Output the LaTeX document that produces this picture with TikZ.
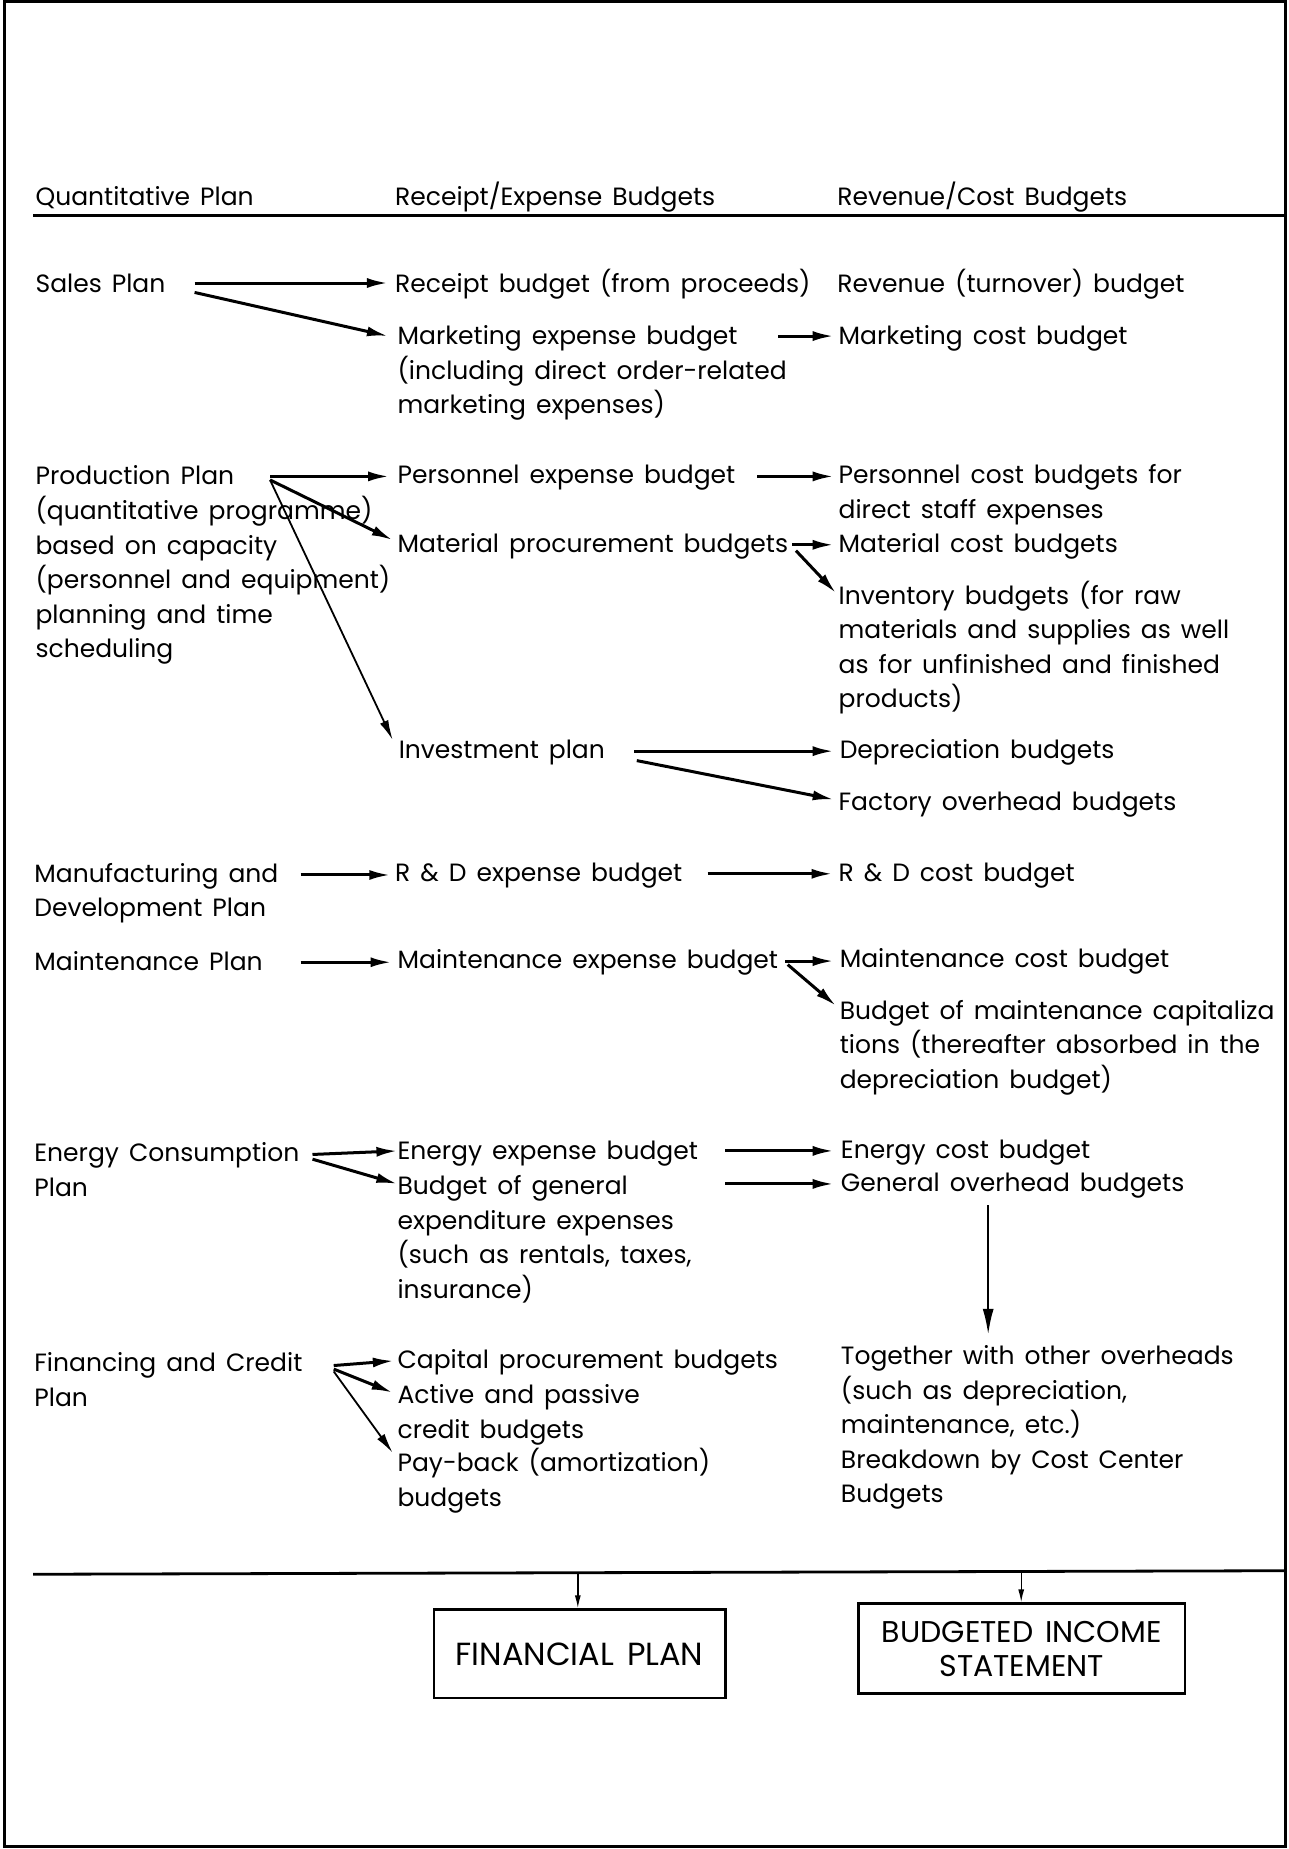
\documentclass[tikz,border=0pt]{standalone}
\usepackage{fontspec}
\setmainfont{Poppins}[WordSpace=1.5]
\usetikzlibrary{arrows.meta}

\begin{document}
\begin{tikzpicture}[x=1.1793pt,y=-1.1793pt,
  txt/.style={anchor=north west,inner sep=0pt,align=left,
    font=\fontsize{25}{34.6}\selectfont},
  arr/.style={line width=3pt,-{Latex[length=21pt,width=10pt]}},
  thinarr/.style={line width=1.8pt,-{Latex[length=20pt,width=9pt]}},
  boxarr/.style={line width=1.4pt,-{Latex[length=13pt,width=6pt]}},
  endbox/.style={draw,line width=2.6pt,inner sep=0pt,align=center,
    font=\fontsize{30}{34}\selectfont}]

\useasboundingbox (0,0) rectangle (1093,1568);

% outer frame and horizontal rules
\draw[line width=3.2pt] (4,1.5) rectangle (1090,1566);
\draw[line width=2.8pt] (28,183) -- (1090,183);
\draw[line width=2.8pt] (28,1335) -- (1090,1332);

% column headings
\node[txt] (hqp) at (30,153.5) {\strut Quantitative Plan};
\node[txt] (hre) at (335,153.5) {\strut Receipt/Expense Budgets};
\node[txt] (hrc) at (710,153.5) {\strut Revenue/Cost Budgets};

% quantitative plans
\node[txt] (sales) at (30,227.5) {\strut Sales Plan};
\node[txt] (prod) at (30,390.5) {\strut Production Plan\\(quantitative programme)\\based on capacity\\(personnel and equipment)\\planning and time\\scheduling};
\node[txt] (mfg) at (29,727.5) {\strut Manufacturing and\\Development Plan};
\node[txt] (maint) at (29,802.5) {\strut Maintenance Plan};
\node[txt] (energy) at (29,964.5) {\strut Energy Consumption\\Plan};
\node[txt] (fin) at (29,1142.5) {\strut Financing and Credit\\Plan};

% receipt / expense budgets
\node[txt] (receipt) at (335,227.5) {\strut Receipt budget (from proceeds)};
\node[txt] (mktexp) at (337,271.5) {\strut Marketing expense budget\\(including direct order-related\\marketing expenses)};
\node[txt] (persexp) at (337,389.5) {\strut Personnel expense budget};
\node[txt] (matproc) at (337,447.5) {\strut Material procurement budgets};
\node[txt] (invest) at (338,622.5) {\strut Investment plan};
\node[txt] (rdexp) at (335,726.5) {\strut R \& D expense budget};
\node[txt] (mntexp) at (337,800.5) {\strut Maintenance expense budget};
\node[txt] (enexp) at (337,962.5) {\strut Energy expense budget};
\node[txt] (genexp) at (337,992.5) {\strut Budget of general\\expenditure expenses\\(such as rentals, taxes,\\insurance)};
\node[txt] (capproc) at (337,1139.5) {\strut Capital procurement budgets};
\node[txt] (credit) at (337,1169.5) {\strut Active and passive\\credit budgets};
\node[txt] (payback) at (337,1227.5) {\strut Pay-back (amortization)\\budgets};

% revenue / cost budgets
\node[txt] (revenue) at (710,227.5) {\strut Revenue (turnover) budget};
\node[txt] (mktcost) at (711,271.5) {\strut Marketing cost budget};
\node[txt] (perscost) at (711,389.5) {\strut Personnel cost budgets for\\direct staff expenses};
\node[txt] (matcost) at (711,447.5) {\strut Material cost budgets};
\node[txt] (inventory) at (711,491.5) {\strut Inventory budgets (for raw\\materials and supplies as well\\as for unfinished and finished\\products)};
\node[txt] (deprec) at (712,622.5) {\strut Depreciation budgets};
\node[txt] (factory) at (711,666.5) {\strut Factory overhead budgets};
\node[txt] (rdcost) at (711,726.5) {\strut R \& D cost budget};
\node[txt] (mntcost) at (712,799.5) {\strut Maintenance cost budget};
\node[txt] (mntcap) at (712,843.5) {\strut Budget of maintenance capitaliza\\tions (thereafter absorbed in the\\depreciation budget)};
\node[txt] (encost) at (713,961.5) {\strut Energy cost budget};
\node[txt] (genover) at (713,989.5) {\strut General overhead budgets};
\node[txt] (together) at (713,1136.5) {\strut Together with other overheads\\(such as depreciation,\\maintenance, etc.)\\Breakdown by Cost Center\\Budgets};

% summary statements
\node[endbox,minimum width=247*1.1793pt,minimum height=75*1.1793pt,font=\fontsize{32}{34}\selectfont] (fplan) at (491.5,1402.5) {FINANCIAL PLAN};
\node[endbox,minimum width=277*1.1793pt,minimum height=76*1.1793pt] (bstmt) at (866.5,1398) {BUDGETED INCOME\\STATEMENT};

% sales plan
\draw[arr] ([shift={(135,12.5)}]sales.north west) -- ([shift={(-6,12.5)}]receipt.north west);
\draw[arr] ([shift={(135,20.5)}]sales.north west) -- ([shift={(-8,13.5)}]mktexp.north west);
\draw[arr] ([shift={(323,13.5)}]mktexp.north west) -- ([shift={(-4,13.5)}]mktcost.north west);

% production plan
\draw[arr] ([shift={(199,13.5)}]prod.north west) -- ([shift={(-7,14.5)}]persexp.north west);
\draw[arr] ([shift={(199,16.5)}]prod.north west) -- ([shift={(-4,10.5)}]matproc.north west);
\draw[thinarr] ([shift={(199,16.5)}]prod.north west) -- ([shift={(-5,5)}]invest.north west);
\draw[arr] ([shift={(305,14.5)}]persexp.north west) -- ([shift={(-4,14.5)}]perscost.north west);
\draw[arr] ([shift={(335,14.5)}]matproc.north west) -- ([shift={(-4,14.5)}]matcost.north west);
\draw[arr] ([shift={(338,19.5)}]matproc.north west) -- ([shift={(-2,11.5)}]inventory.north west);
\draw[arr] ([shift={(200,14.5)}]invest.north west) -- ([shift={(-5,14.5)}]deprec.north west);
\draw[arr] ([shift={(202,22.5)}]invest.north west) -- ([shift={(-4,11.5)}]factory.north west);

% manufacturing / development and maintenance
\draw[arr] ([shift={(226,14.5)}]mfg.north west) -- ([shift={(-4,15.5)}]rdexp.north west);
\draw[arr] ([shift={(265,14.5)}]rdexp.north west) -- ([shift={(-5,14.5)}]rdcost.north west);
\draw[arr] ([shift={(226,13.5)}]maint.north west) -- ([shift={(-5,15.5)}]mntexp.north west);
\draw[arr] ([shift={(329,14.5)}]mntexp.north west) -- ([shift={(-5,15.5)}]mntcost.north west);
\draw[arr] ([shift={(331,17.5)}]mntexp.north west) -- ([shift={(-3,9.5)}]mntcap.north west);

% energy consumption
\draw[arr] ([shift={(236,14.5)}]energy.north west) -- ([shift={(0,13.5)}]enexp.north west);
\draw[arr] ([shift={(236,18.5)}]energy.north west) -- ([shift={(0,11.5)}]genexp.north west);
\draw[arr] ([shift={(278,13.5)}]enexp.north west) -- ([shift={(-6,14.5)}]encost.north west);
\draw[arr] ([shift={(278,11.5)}]genexp.north west) -- ([shift={(-6,14.5)}]genover.north west);
\draw[line width=2.4pt,-{Latex[length=26pt,width=11pt]}] ([shift={(125,32.5)}]genover.north west) -- ([shift={(125,-4.5)}]together.north west);

% financing and credit
\draw[arr] ([shift={(254,15.5)}]fin.north west) -- ([shift={(-3,14.5)}]capproc.north west);
\draw[arr] ([shift={(254,18.5)}]fin.north west) -- ([shift={(-4,11.5)}]credit.north west);
\draw[thinarr] ([shift={(254,20.5)}]fin.north west) -- ([shift={(-4,4.5)}]payback.north west);

% summary arrows from the bottom rule
\coordinate (rulefp) at (490,1334.5);
\coordinate (rulebs) at (866,1332);
\draw[boxarr] (rulefp) -- (rulefp |- fplan.north);
\draw[boxarr] (rulebs) -- (rulebs |- bstmt.north);
\end{tikzpicture}
\end{document}
